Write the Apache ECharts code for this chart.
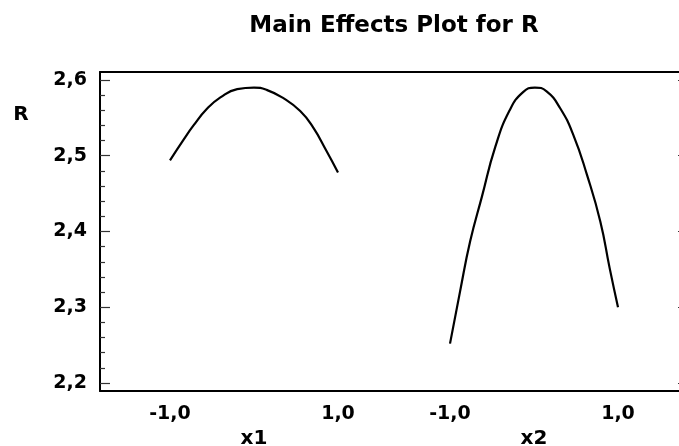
<!DOCTYPE html>
<html>
<head>
<meta charset="utf-8">
<script src="https://cdn.jsdelivr.net/npm/echarts@6/dist/echarts.min.js"></script>
<style>
html,body{margin:0;padding:0;background:#fff;}
#chart{width:679px;height:446px;}
</style>
</head>
<body>
<div id="chart"></div>
<script>
var titleText = 'Main Effects Plot for R';
var yName = 'R';
var factorNames = ['x1', 'x2'];
var xTickValues = [-1, 1];
var yTickValues = [2.2, 2.3, 2.4, 2.5, 2.6];
var yMinorTickValues = [2.22, 2.24, 2.26, 2.28, 2.32, 2.34, 2.36, 2.38, 2.42, 2.44, 2.46, 2.48, 2.52, 2.54, 2.56, 2.58];

var x1Levels = [-1.0, -0.84, -0.72, -0.56, -0.4, -0.2, 0.0, 0.15, 0.35, 0.55, 0.7, 0.86, 1.0];
var x1Resp   = [2.494, 2.521, 2.540, 2.562, 2.577, 2.588, 2.590, 2.587, 2.576, 2.559, 2.538, 2.507, 2.478];

var x2Levels = [-1.0, -0.88, -0.76, -0.62, -0.46, -0.29, -0.13, 0.01, 0.15, 0.31, 0.47, 0.63, 0.79, 0.9, 1.0];
var x2Resp   = [2.252, 2.321, 2.387, 2.446, 2.512, 2.560, 2.584, 2.590, 2.585, 2.563, 2.527, 2.475, 2.413, 2.352, 2.300];

var FONT = 'DejaVu Sans';
var yMin = 2.18944, yMax = 2.61056;
var xMin = -11 / 6, xMax = 11 / 6;

function pairs(xs, ys) { return xs.map(function (x, i) { return [x, ys[i]]; }); }
function comma(v) { return Number(v).toFixed(1).replace('.', ','); }

var chart = echarts.init(document.getElementById('chart'), null, {renderer: 'canvas'});

function bottomX(gridIndex, name) {
  return {
    gridIndex: gridIndex, type: 'value', position: 'bottom', min: xMin, max: xMax,
    axisLine: {show: true, onZero: false, lineStyle: {color: '#000', width: 2}},
    axisTick: {show: false},
    splitLine: {show: false},
    axisLabel: {
      customValues: xTickValues, margin: 14, color: '#000', fontFamily: FONT, fontWeight: 'bold', fontSize: 19,
      formatter: function (v) { return (Math.abs(Math.abs(v) - 1) < 1e-6) ? comma(v) : ''; }
    },
    name: name, nameLocation: 'middle', nameGap: 37,
    nameTextStyle: {color: '#000', fontFamily: FONT, fontWeight: 'bold', fontSize: 20}
  };
}
function topX(gridIndex) {
  return {
    gridIndex: gridIndex, type: 'value', position: 'top', min: xMin, max: xMax,
    axisLine: {show: true, onZero: false, lineStyle: {color: '#000', width: 2}},
    axisTick: {show: false}, axisLabel: {show: false}, splitLine: {show: false}
  };
}

var option = {
  backgroundColor: '#fff',
  animation: false,
  grid: [
    {left: 100, top: 72, width: 308, height: 319, outerBoundsMode: 'none', containLabel: false},
    {left: 380, top: 72, width: 308, height: 319, outerBoundsMode: 'none', containLabel: false}
  ],
  xAxis: [bottomX(0, factorNames[0]), bottomX(1, factorNames[1]), topX(0), topX(1)],
  yAxis: [
    {
      gridIndex: 0, type: 'value', position: 'left', min: yMin, max: yMax,
      axisLine: {show: true, onZero: false, lineStyle: {color: '#000', width: 2}},
      axisTick: {show: true, inside: true, length: 10, customValues: yTickValues, lineStyle: {color: '#333', width: 1.2}},
      axisLabel: {customValues: yTickValues, margin: 13, color: '#000', fontFamily: FONT, fontWeight: 'bold', fontSize: 19,
        formatter: function (v) { return comma(v); }},
      splitLine: {show: false}
    },
    {
      gridIndex: 0, type: 'value', position: 'left', min: yMin, max: yMax,
      axisLine: {show: false, onZero: false},
      axisTick: {show: true, inside: true, length: 5, customValues: yMinorTickValues, lineStyle: {color: '#333', width: 1.2}},
      axisLabel: {show: false}, splitLine: {show: false}
    },
    {
      gridIndex: 1, type: 'value', position: 'right', min: yMin, max: yMax,
      axisLine: {show: true, onZero: false, lineStyle: {color: '#000', width: 2}},
      axisTick: {show: true, inside: true, length: 10, customValues: yTickValues, lineStyle: {color: '#333', width: 1.2}},
      axisLabel: {show: false}, splitLine: {show: false}
    }
  ],
  graphic: [
    {type: 'text', x: 394, y: 26, style: {text: titleText, fill: '#000', font: 'bold 23px "DejaVu Sans"', align: 'center', verticalAlign: 'middle'}},
    {type: 'text', x: 21, y: 115, style: {text: yName, fill: '#000', font: 'bold 20px "DejaVu Sans"', align: 'center', verticalAlign: 'middle'}}
  ],
  series: [
    {type: 'line', xAxisIndex: 0, yAxisIndex: 0, data: pairs(x1Levels, x1Resp), smooth: 0.5, showSymbol: false,
      lineStyle: {color: '#000', width: 2.2}},
    {type: 'line', xAxisIndex: 1, yAxisIndex: 2, data: pairs(x2Levels, x2Resp), smooth: 0.5, showSymbol: false,
      lineStyle: {color: '#000', width: 2.2}}
  ]
};
chart.setOption(option);
</script>
</body>
</html>
